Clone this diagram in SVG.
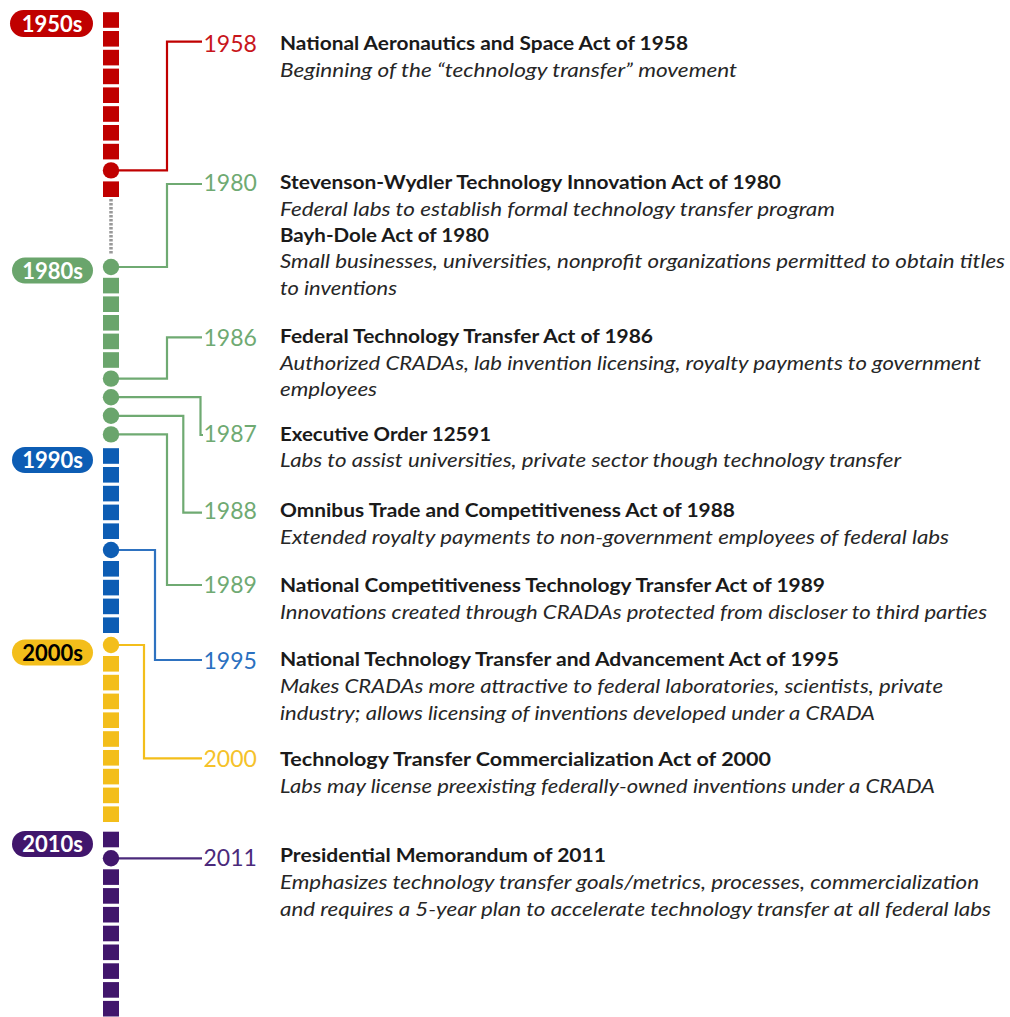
<svg xmlns="http://www.w3.org/2000/svg" width="1010" height="1017" viewBox="0 0 1010 1017">
<style>
.pill{font-family:Lato,"Open Sans",sans-serif;font-weight:700;font-size:22px;text-anchor:middle}
.yr{font-family:Lato,"Open Sans",sans-serif;font-size:23px}
.t{font-family:Lato,"Open Sans",sans-serif;font-weight:700;font-size:18.5px;fill:#1a1a1a}
.d{font-family:Lato,"Open Sans",sans-serif;font-style:italic;font-size:18.5px;fill:#262626}
.con{fill:none;stroke-width:2.2}
.red{fill:#C00000}.grn{fill:#6AA56C}.blu{fill:#0D5DB4}.yel{fill:#F3BE1B}.pur{fill:#41166C}
</style>
<rect width="1010" height="1017" fill="#ffffff"/>
<g id="connectors">
<line x1="111" y1="199" x2="111" y2="254" stroke="#999999" stroke-width="3.5" stroke-dasharray="2.4 1.6"/>
<path class="con" stroke="#C00000" d="M111 170.4H167V41.7H202"/>
<path class="con" stroke="#6FAA72" d="M111 267H167V184H202"/>
<path class="con" stroke="#6FAA72" d="M111 378.6H167V337.3H202"/>
<path class="con" stroke="#6FAA72" d="M111 397.2H200.5V435H203"/>
<path class="con" stroke="#6FAA72" d="M111 415.8H183.3V512.7H202"/>
<path class="con" stroke="#6FAA72" d="M111 434.4H167V585H202"/>
<path class="con" stroke="#2E72C0" d="M111 550H155V660H202"/>
<path class="con" stroke="#F3BE1B" d="M111 645H144V758.3H202"/>
<path class="con" stroke="#4B2A7B" d="M111 858.3H202"/>
</g>
<g id="decade-1950s">
<rect class="red" x="10" y="10" width="83" height="27" rx="13.5"/>
<text class="pill" x="52" y="31.8" fill="#ffffff">1950s</text>
<g class="red">
<rect x="103" y="12.2" width="16" height="15.6"/><rect x="103" y="31" width="16" height="15.6"/><rect x="103" y="49.8" width="16" height="15.6"/><rect x="103" y="68.6" width="16" height="15.6"/><rect x="103" y="87.4" width="16" height="15.6"/><rect x="103" y="106.2" width="16" height="15.6"/><rect x="103" y="125" width="16" height="15.6"/><rect x="103" y="143.8" width="16" height="15.6"/><circle cx="111" cy="170.4" r="8.2"/><rect x="103" y="181.4" width="16" height="15.6"/>
</g>
</g>
<g id="decade-1980s">
<rect class="grn" x="12" y="257.5" width="81" height="26" rx="13"/>
<text class="pill" x="52.5" y="278.5" fill="#ffffff">1980s</text>
<g class="grn">
<circle cx="111" cy="267" r="8.2"/><rect x="103" y="277.8" width="16" height="15.6"/><rect x="103" y="296.4" width="16" height="15.6"/><rect x="103" y="315" width="16" height="15.6"/><rect x="103" y="333.6" width="16" height="15.6"/><rect x="103" y="352.2" width="16" height="15.6"/><circle cx="111" cy="378.6" r="8.2"/><circle cx="111" cy="397.2" r="8.2"/><circle cx="111" cy="415.8" r="8.2"/><circle cx="111" cy="434.4" r="8.2"/>
</g>
</g>
<g id="decade-1990s">
<rect class="blu" x="12" y="447" width="81" height="26" rx="13"/>
<text class="pill" x="52.5" y="468" fill="#ffffff">1990s</text>
<g class="blu">
<rect x="103" y="448.2" width="16" height="15.6"/><rect x="103" y="467" width="16" height="15.6"/><rect x="103" y="485.8" width="16" height="15.6"/><rect x="103" y="504.6" width="16" height="15.6"/><rect x="103" y="523.4" width="16" height="15.6"/><circle cx="111" cy="550" r="8.2"/><rect x="103" y="561" width="16" height="15.6"/><rect x="103" y="579.8" width="16" height="15.6"/><rect x="103" y="598.6" width="16" height="15.6"/><rect x="103" y="617.4" width="16" height="15.6"/>
</g>
</g>
<g id="decade-2000s">
<rect class="yel" x="12" y="639.5" width="81" height="26" rx="13"/>
<text class="pill" x="52.5" y="660.5" fill="#000000">2000s</text>
<g class="yel">
<circle cx="111" cy="645" r="8.2"/><rect x="103" y="656" width="16" height="15.6"/><rect x="103" y="674.8" width="16" height="15.6"/><rect x="103" y="693.6" width="16" height="15.6"/><rect x="103" y="712.4" width="16" height="15.6"/><rect x="103" y="731.2" width="16" height="15.6"/><rect x="103" y="750" width="16" height="15.6"/><rect x="103" y="768.8" width="16" height="15.6"/><rect x="103" y="787.6" width="16" height="15.6"/><rect x="103" y="806.4" width="16" height="15.6"/>
</g>
</g>
<g id="decade-2010s">
<rect class="pur" x="12" y="831" width="81" height="26" rx="13"/>
<text class="pill" x="52.5" y="852" fill="#ffffff">2010s</text>
<g class="pur">
<rect x="103" y="831.7" width="16" height="15.6"/><circle cx="111" cy="858.3" r="8.2"/><rect x="103" y="869.3" width="16" height="15.6"/><rect x="103" y="888.1" width="16" height="15.6"/><rect x="103" y="906.9" width="16" height="15.6"/><rect x="103" y="925.7" width="16" height="15.6"/><rect x="103" y="944.5" width="16" height="15.6"/><rect x="103" y="963.3" width="16" height="15.6"/><rect x="103" y="982.1" width="16" height="15.6"/><rect x="103" y="1000.9" width="16" height="15.6"/>
</g>
</g>
<g id="event-1958">
<text class="yr" x="203.5" y="51.5" fill="#C8151B">1958</text>
<text class="t" x="280" y="50" textLength="408" lengthAdjust="spacingAndGlyphs">National Aeronautics and Space Act of 1958</text>
<text class="d" x="280" y="77" textLength="457" lengthAdjust="spacingAndGlyphs">Beginning of the “technology transfer” movement</text>
</g>
<g id="event-1980">
<text class="yr" x="203.5" y="190.5" fill="#6FAA72">1980</text>
<text class="t" x="280" y="188.5" textLength="501" lengthAdjust="spacingAndGlyphs">Stevenson-Wydler Technology Innovation Act of 1980</text>
<text class="d" x="280" y="215.5" textLength="555" lengthAdjust="spacingAndGlyphs">Federal labs to establish formal technology transfer program</text>
<text class="t" x="280" y="241.5" textLength="209" lengthAdjust="spacingAndGlyphs">Bayh-Dole Act of 1980</text>
<text class="d" x="280" y="268" textLength="725" lengthAdjust="spacingAndGlyphs">Small businesses, universities, nonprofit organizations permitted to obtain titles</text>
<text class="d" x="280" y="295" textLength="117" lengthAdjust="spacingAndGlyphs">to inventions</text>
</g>
<g id="event-1986">
<text class="yr" x="203.5" y="345.5" fill="#6FAA72">1986</text>
<text class="t" x="280" y="342.5" textLength="373" lengthAdjust="spacingAndGlyphs">Federal Technology Transfer Act of 1986</text>
<text class="d" x="280" y="369.5" textLength="701" lengthAdjust="spacingAndGlyphs">Authorized CRADAs, lab invention licensing, royalty payments to government</text>
<text class="d" x="280" y="396" textLength="97" lengthAdjust="spacingAndGlyphs">employees</text>
</g>
<g id="event-1987">
<text class="yr" x="203.5" y="441.5" fill="#6FAA72">1987</text>
<text class="t" x="280" y="440.5" textLength="211" lengthAdjust="spacingAndGlyphs">Executive Order 12591</text>
<text class="d" x="280" y="467" textLength="621" lengthAdjust="spacingAndGlyphs">Labs to assist universities, private sector though technology transfer</text>
</g>
<g id="event-1988">
<text class="yr" x="203.5" y="519" fill="#6FAA72">1988</text>
<text class="t" x="280" y="516.5" textLength="455" lengthAdjust="spacingAndGlyphs">Omnibus Trade and Competitiveness Act of 1988</text>
<text class="d" x="280" y="543.5" textLength="669" lengthAdjust="spacingAndGlyphs">Extended royalty payments to non-government employees of federal labs</text>
</g>
<g id="event-1989">
<text class="yr" x="203.5" y="593" fill="#6FAA72">1989</text>
<text class="t" x="280" y="592" textLength="545" lengthAdjust="spacingAndGlyphs">National Competitiveness Technology Transfer Act of 1989</text>
<text class="d" x="280" y="619" textLength="707" lengthAdjust="spacingAndGlyphs">Innovations created through CRADAs protected from discloser to third parties</text>
</g>
<g id="event-1995">
<text class="yr" x="203.5" y="669" fill="#2A70C0">1995</text>
<text class="t" x="280" y="666" textLength="559" lengthAdjust="spacingAndGlyphs">National Technology Transfer and Advancement Act of 1995</text>
<text class="d" x="280" y="693" textLength="663" lengthAdjust="spacingAndGlyphs">Makes CRADAs more attractive to federal laboratories, scientists, private</text>
<text class="d" x="280" y="720" textLength="595" lengthAdjust="spacingAndGlyphs">industry; allows licensing of inventions developed under a CRADA</text>
</g>
<g id="event-2000">
<text class="yr" x="203.5" y="767" fill="#F5C22A">2000</text>
<text class="t" x="280" y="766" textLength="491" lengthAdjust="spacingAndGlyphs">Technology Transfer Commercialization Act of 2000</text>
<text class="d" x="280" y="793" textLength="655" lengthAdjust="spacingAndGlyphs">Labs may license preexisting federally-owned inventions under a CRADA</text>
</g>
<g id="event-2011">
<text class="yr" x="203.5" y="866" fill="#4B2A7B">2011</text>
<text class="t" x="280" y="862" textLength="326" lengthAdjust="spacingAndGlyphs">Presidential Memorandum of 2011</text>
<text class="d" x="280" y="889" textLength="699" lengthAdjust="spacingAndGlyphs">Emphasizes technology transfer goals/metrics, processes, commercialization</text>
<text class="d" x="280" y="916" textLength="711" lengthAdjust="spacingAndGlyphs">and requires a 5-year plan to accelerate technology transfer at all federal labs</text>
</g>
</svg>
